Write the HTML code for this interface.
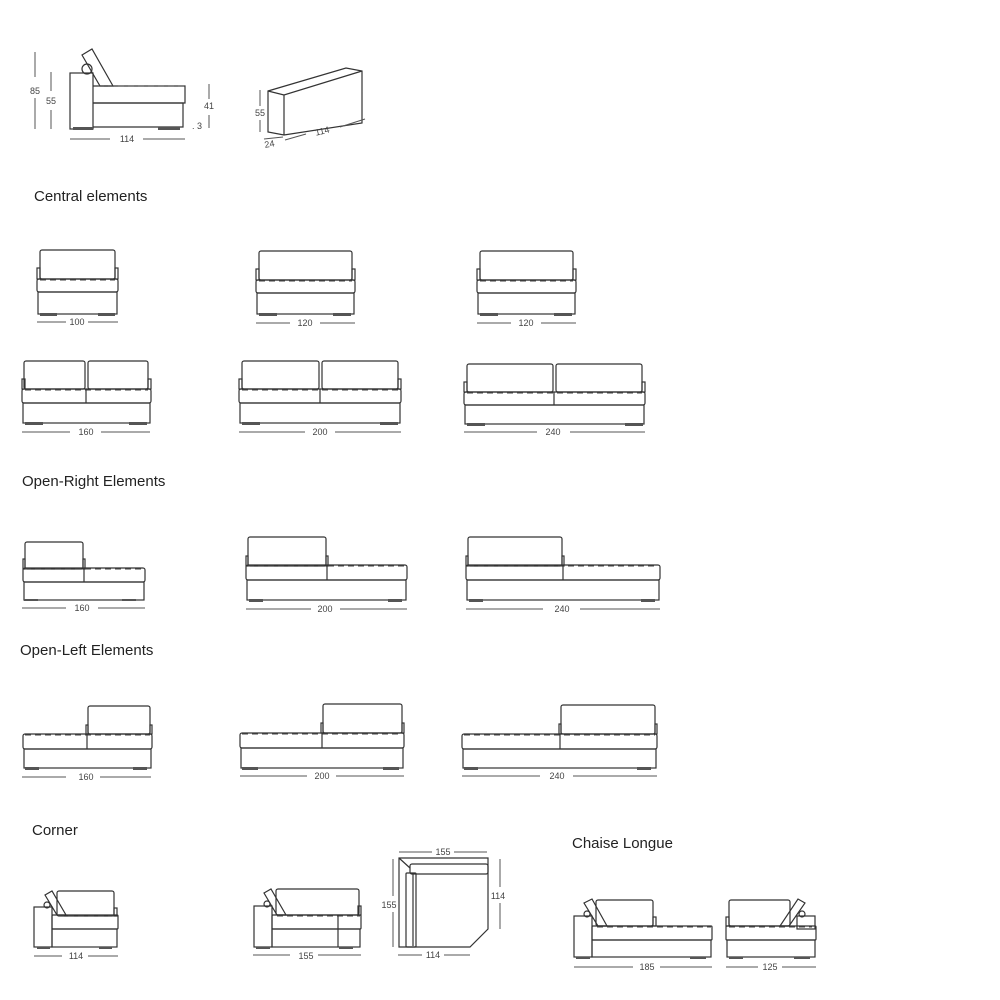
<!DOCTYPE html>
<html><head><meta charset="utf-8"><style>
html,body{margin:0;padding:0;background:#fff;width:1000px;height:1000px;overflow:hidden}
svg{display:block}
.s{fill:none;stroke:#333;stroke-width:1.2}
.d{fill:none;stroke:#444;stroke-width:1.1;stroke-dasharray:6 4}
.l{stroke:#555;stroke-width:1}
.t{font-family:"Liberation Sans",sans-serif;font-size:9px;fill:#444;text-anchor:middle}
.h{font-family:"Liberation Sans",sans-serif;font-size:15px;fill:#222}
.f{fill:#555}
</style></head><body>
<svg width="1000" height="1000" viewBox="0 0 1000 1000">
<!-- top side view -->
<line class="l" x1="35" y1="52" x2="35" y2="77"/><line class="l" x1="35" y1="98" x2="35" y2="129"/>
<text class="t" x="35" y="94">85</text>
<line class="l" x1="51" y1="72" x2="51" y2="91"/><line class="l" x1="51" y1="110" x2="51" y2="129"/>
<text class="t" x="51" y="104">55</text>
<rect class="s" x="70" y="73" width="23" height="56"/>
<circle class="s" cx="87" cy="69" r="5"/>
<path class="s" d="M82,55 L92,49 L113,86 L100,86 Z"/>
<path class="s" d="M93,86 L185,86 L185,103 L93,103"/>
<line class="d" x1="98" y1="86" x2="185" y2="86"/>
<path class="s" d="M93,103 L183,103 L183,127 L93,127"/>
<rect class="f" x="73" y="127" width="20" height="3"/><rect class="f" x="158" y="127" width="22" height="3"/>
<line class="l" x1="209" y1="84" x2="209" y2="99"/><line class="l" x1="209" y1="115" x2="209" y2="128"/>
<text class="t" x="209" y="109">41</text><text class="t" x="197" y="129">. 3</text>
<line class="l" x1="70" y1="139" x2="110" y2="139"/><line class="l" x1="143" y1="139" x2="185" y2="139"/>
<text class="t" x="127" y="142">114</text>
<!-- block -->
<path class="s" d="M268,91 L346,68 L362,71 L362,123 L284,135 L268,132 Z M268,91 L284,95 L362,71 M284,95 L284,135"/>
<line class="l" x1="260" y1="90" x2="260" y2="106"/><line class="l" x1="260" y1="120" x2="260" y2="132"/>
<text class="t" x="260" y="116">55</text>
<line class="l" x1="285" y1="140" x2="306" y2="134"/><line class="l" x1="340" y1="127" x2="365" y2="119"/>
<text class="t" x="323" y="134" transform="rotate(-14 323 134)">114</text>
<line class="l" x1="264" y1="139" x2="283" y2="137"/>
<text class="t" x="270" y="147" transform="rotate(-10 270 147)">24</text>

<text class="h" x="34" y="201">Central elements</text>

<!-- central 1 -->
<g>
<rect class="s" x="40" y="250" width="75" height="29" rx="2"/>
<rect class="s" x="37" y="268" width="3" height="11"/><rect class="s" x="115" y="268" width="3" height="11"/>
<rect class="s" x="37" y="279" width="81" height="13" rx="2"/><line class="d" x1="40" y1="280" x2="115" y2="280"/>
<rect class="s" x="38" y="292" width="79" height="22"/>
<rect class="f" x="40" y="313" width="17" height="3"/><rect class="f" x="98" y="313" width="17" height="3"/>
<line class="l" x1="37" y1="322" x2="66" y2="322"/><line class="l" x1="88" y1="322" x2="118" y2="322"/><text class="t" x="77" y="325">100</text>
</g>
<!-- central 2 -->
<rect class="s" x="259" y="251" width="93" height="29" rx="2"/>
<rect class="s" x="256" y="269" width="3" height="11"/><rect class="s" x="352" y="269" width="3" height="11"/>
<rect class="s" x="256" y="280" width="99" height="13" rx="2"/><line class="d" x1="259" y1="281" x2="352" y2="281"/>
<rect class="s" x="257" y="293" width="97" height="21"/>
<rect class="f" x="259" y="313" width="18" height="3"/><rect class="f" x="333" y="313" width="18" height="3"/>
<line class="l" x1="256" y1="323" x2="290" y2="323"/><line class="l" x1="320" y1="323" x2="355" y2="323"/><text class="t" x="305" y="326">120</text>
<!-- central 3 -->
<rect class="s" x="480" y="251" width="93" height="29" rx="2"/>
<rect class="s" x="477" y="269" width="3" height="11"/><rect class="s" x="573" y="269" width="3" height="11"/>
<rect class="s" x="477" y="280" width="99" height="13" rx="2"/><line class="d" x1="480" y1="281" x2="573" y2="281"/>
<rect class="s" x="478" y="293" width="97" height="21"/>
<rect class="f" x="480" y="313" width="18" height="3"/><rect class="f" x="554" y="313" width="18" height="3"/>
<line class="l" x1="477" y1="323" x2="511" y2="323"/><line class="l" x1="541" y1="323" x2="576" y2="323"/><text class="t" x="526" y="326">120</text>
<!-- 160 -->
<rect class="s" x="24" y="361" width="61" height="28" rx="2"/><rect class="s" x="88" y="361" width="60" height="28" rx="2"/>
<rect class="s" x="22" y="379" width="3" height="10"/><rect class="s" x="148" y="379" width="3" height="10"/>
<rect class="s" x="22" y="389" width="129" height="14" rx="2"/><line class="d" x1="25" y1="390" x2="148" y2="390"/><line class="s" x1="86" y1="389" x2="86" y2="403"/>
<rect class="s" x="23" y="403" width="127" height="20"/>
<rect class="f" x="25" y="422" width="18" height="3"/><rect class="f" x="129" y="422" width="18" height="3"/>
<line class="l" x1="22" y1="432" x2="70" y2="432"/><line class="l" x1="101" y1="432" x2="150" y2="432"/><text class="t" x="86" y="435">160</text>
<!-- 200 -->
<rect class="s" x="242" y="361" width="77" height="28" rx="2"/><rect class="s" x="322" y="361" width="76" height="28" rx="2"/>
<rect class="s" x="239" y="379" width="3" height="10"/><rect class="s" x="398" y="379" width="3" height="10"/>
<rect class="s" x="239" y="389" width="162" height="14" rx="2"/><line class="d" x1="242" y1="390" x2="398" y2="390"/><line class="s" x1="320" y1="389" x2="320" y2="403"/>
<rect class="s" x="240" y="403" width="160" height="20"/>
<rect class="f" x="242" y="422" width="18" height="3"/><rect class="f" x="380" y="422" width="18" height="3"/>
<line class="l" x1="239" y1="432" x2="305" y2="432"/><line class="l" x1="335" y1="432" x2="401" y2="432"/><text class="t" x="320" y="435">200</text>
<!-- 240 -->
<rect class="s" x="467" y="364" width="86" height="28" rx="2"/><rect class="s" x="556" y="364" width="86" height="28" rx="2"/>
<rect class="s" x="464" y="382" width="3" height="10"/><rect class="s" x="642" y="382" width="3" height="10"/>
<rect class="s" x="464" y="392" width="181" height="13" rx="2"/><line class="d" x1="467" y1="393" x2="642" y2="393"/><line class="s" x1="554" y1="392" x2="554" y2="405"/>
<rect class="s" x="465" y="405" width="179" height="19"/>
<rect class="f" x="467" y="423" width="18" height="3"/><rect class="f" x="625" y="423" width="18" height="3"/>
<line class="l" x1="464" y1="432" x2="537" y2="432"/><line class="l" x1="570" y1="432" x2="645" y2="432"/><text class="t" x="553" y="435">240</text>

<text class="h" x="22" y="486">Open-Right Elements</text>
<!-- OR 160 -->
<rect class="s" x="25" y="542" width="58" height="27" rx="2"/><rect class="s" x="23" y="559" width="2" height="10"/><rect class="s" x="83" y="559" width="2" height="10"/>
<rect class="s" x="23" y="568" width="122" height="14" rx="2"/><line class="d" x1="25" y1="569" x2="143" y2="569"/><line class="s" x1="84" y1="568" x2="84" y2="582"/>
<rect class="s" x="24" y="582" width="120" height="18"/>
<rect class="f" x="24" y="599" width="14" height="2"/><rect class="f" x="122" y="599" width="14" height="2"/>
<line class="l" x1="22" y1="608" x2="66" y2="608"/><line class="l" x1="98" y1="608" x2="145" y2="608"/><text class="t" x="82" y="611">160</text>
<!-- OR 200 -->
<rect class="s" x="248" y="537" width="78" height="29" rx="2"/><rect class="s" x="246" y="556" width="2" height="10"/><rect class="s" x="326" y="556" width="2" height="10"/>
<rect class="s" x="246" y="565" width="161" height="15" rx="2"/><line class="d" x1="248" y1="566" x2="405" y2="566"/><line class="s" x1="327" y1="565" x2="327" y2="580"/>
<rect class="s" x="247" y="580" width="159" height="20"/>
<rect class="f" x="249" y="599" width="14" height="3"/><rect class="f" x="388" y="599" width="14" height="3"/>
<line class="l" x1="246" y1="609" x2="311" y2="609"/><line class="l" x1="340" y1="609" x2="407" y2="609"/><text class="t" x="325" y="612">200</text>
<!-- OR 240 -->
<rect class="s" x="468" y="537" width="94" height="29" rx="2"/><rect class="s" x="466" y="556" width="2" height="10"/><rect class="s" x="562" y="556" width="2" height="10"/>
<rect class="s" x="466" y="565" width="194" height="15" rx="2"/><line class="d" x1="468" y1="566" x2="658" y2="566"/><line class="s" x1="563" y1="565" x2="563" y2="580"/>
<rect class="s" x="467" y="580" width="192" height="20"/>
<rect class="f" x="469" y="599" width="14" height="3"/><rect class="f" x="641" y="599" width="14" height="3"/>
<line class="l" x1="466" y1="609" x2="543" y2="609"/><line class="l" x1="580" y1="609" x2="660" y2="609"/><text class="t" x="562" y="612">240</text>

<text class="h" x="20" y="655">Open-Left Elements</text>
<!-- OL 160 -->
<rect class="s" x="88" y="706" width="62" height="28" rx="2"/><rect class="s" x="86" y="725" width="2" height="9"/><rect class="s" x="150" y="725" width="2" height="9"/>
<rect class="s" x="23" y="734" width="129" height="15" rx="2"/><line class="d" x1="25" y1="735" x2="150" y2="735"/><line class="s" x1="87" y1="734" x2="87" y2="749"/>
<rect class="s" x="24" y="749" width="127" height="19"/>
<rect class="f" x="25" y="767" width="14" height="3"/><rect class="f" x="133" y="767" width="14" height="3"/>
<line class="l" x1="22" y1="777" x2="66" y2="777"/><line class="l" x1="100" y1="777" x2="151" y2="777"/><text class="t" x="86" y="780">160</text>
<!-- OL 200 -->
<rect class="s" x="323" y="704" width="79" height="29" rx="2"/><rect class="s" x="321" y="723" width="2" height="10"/><rect class="s" x="402" y="723" width="2" height="10"/>
<rect class="s" x="240" y="733" width="164" height="15" rx="2"/><line class="d" x1="242" y1="734" x2="402" y2="734"/><line class="s" x1="322" y1="733" x2="322" y2="748"/>
<rect class="s" x="241" y="748" width="162" height="20"/>
<rect class="f" x="242" y="767" width="16" height="3"/><rect class="f" x="383" y="767" width="16" height="3"/>
<line class="l" x1="240" y1="776" x2="307" y2="776"/><line class="l" x1="336" y1="776" x2="404" y2="776"/><text class="t" x="322" y="779">200</text>
<!-- OL 240 -->
<rect class="s" x="561" y="705" width="94" height="29" rx="2"/><rect class="s" x="559" y="724" width="2" height="10"/><rect class="s" x="655" y="724" width="2" height="10"/>
<rect class="s" x="462" y="734" width="195" height="15" rx="2"/><line class="d" x1="464" y1="735" x2="655" y2="735"/><line class="s" x1="560" y1="734" x2="560" y2="749"/>
<rect class="s" x="463" y="749" width="193" height="19"/>
<rect class="f" x="464" y="767" width="14" height="3"/><rect class="f" x="637" y="767" width="14" height="3"/>
<line class="l" x1="462" y1="776" x2="540" y2="776"/><line class="l" x1="573" y1="776" x2="657" y2="776"/><text class="t" x="557" y="779">240</text>

<text class="h" x="32" y="835">Corner</text>
<text class="h" x="572" y="848">Chaise Longue</text>

<!-- corner 114 -->
<rect class="s" x="34" y="907" width="18" height="40"/>
<rect class="s" x="57" y="891" width="57" height="25" rx="2"/>
<circle class="s" cx="47" cy="905" r="3"/>
<path class="s" d="M45,895 L52,891 L66,915 L57,915 Z"/>
<rect class="s" x="114" y="908" width="3" height="8"/>
<rect class="s" x="52" y="915" width="66" height="14" rx="1"/><line class="d" x1="58" y1="916" x2="117" y2="916"/>
<rect class="s" x="52" y="929" width="65" height="18"/>
<rect class="f" x="37" y="947" width="13" height="2"/><rect class="f" x="99" y="947" width="13" height="2"/>
<line class="l" x1="34" y1="956" x2="62" y2="956"/><line class="l" x1="88" y1="956" x2="118" y2="956"/><text class="t" x="76" y="959">114</text>
<!-- corner 155 front -->
<rect class="s" x="254" y="906" width="18" height="41"/>
<rect class="s" x="276" y="889" width="83" height="26" rx="2"/>
<circle class="s" cx="267" cy="904" r="3"/>
<path class="s" d="M264,893 L271,889 L286,915 L277,915 Z"/>
<rect class="s" x="358" y="906" width="3" height="9"/>
<rect class="s" x="272" y="915" width="89" height="14" rx="1"/><line class="d" x1="277" y1="916" x2="360" y2="916"/>
<rect class="s" x="272" y="929" width="88" height="18"/><line class="s" x1="338" y1="915" x2="338" y2="947"/>
<rect class="f" x="256" y="947" width="14" height="2"/><rect class="f" x="339" y="947" width="14" height="2"/>
<line class="l" x1="253" y1="955" x2="290" y2="955"/><line class="l" x1="318" y1="955" x2="361" y2="955"/><text class="t" x="306" y="959">155</text>
<!-- corner top view -->
<path class="s" d="M399,858 L488,858 L488,929 L470,947 L399,947 Z"/>
<line class="s" x1="399" y1="858" x2="410" y2="868"/>
<rect class="s" x="410" y="864" width="78" height="10" rx="2"/>
<rect class="s" x="406" y="873" width="10" height="74" rx="1"/>
<line class="s" x1="413" y1="874" x2="413" y2="946"/>
<line class="l" x1="399" y1="852" x2="432" y2="852"/><line class="l" x1="454" y1="852" x2="487" y2="852"/><text class="t" x="443" y="855">155</text>
<line class="l" x1="393" y1="859" x2="393" y2="896"/><line class="l" x1="393" y1="912" x2="393" y2="947"/><text class="t" x="389" y="908">155</text>
<line class="l" x1="500" y1="859" x2="500" y2="887"/><line class="l" x1="500" y1="903" x2="500" y2="929"/><text class="t" x="498" y="899">114</text>
<line class="l" x1="398" y1="955" x2="422" y2="955"/><line class="l" x1="444" y1="955" x2="470" y2="955"/><text class="t" x="433" y="958">114</text>
<!-- chaise 185 -->
<rect class="s" x="574" y="916" width="18" height="41"/>
<rect class="s" x="596" y="900" width="57" height="26" rx="2"/>
<circle class="s" cx="587" cy="914" r="3"/>
<path class="s" d="M584,903 L592,899 L607,926 L598,926 Z"/>
<rect class="s" x="653" y="917" width="3" height="9"/>
<rect class="s" x="592" y="926" width="120" height="14" rx="1"/><line class="d" x1="597" y1="927" x2="711" y2="927"/>
<rect class="s" x="592" y="940" width="119" height="17"/>
<rect class="f" x="576" y="957" width="14" height="2"/><rect class="f" x="690" y="957" width="16" height="2"/>
<line class="l" x1="574" y1="967" x2="633" y2="967"/><line class="l" x1="660" y1="967" x2="712" y2="967"/><text class="t" x="647" y="970">185</text>
<!-- chaise 125 -->
<rect class="s" x="797" y="916" width="18" height="13"/>
<rect class="s" x="729" y="900" width="61" height="26" rx="2"/>
<circle class="s" cx="802" cy="914" r="3"/>
<path class="s" d="M805,903 L798,899 L780,926 L789,926 Z"/>
<rect class="s" x="726" y="917" width="3" height="9"/>
<rect class="s" x="726" y="926" width="90" height="14" rx="1"/><line class="d" x1="729" y1="927" x2="812" y2="927"/>
<rect class="s" x="727" y="940" width="88" height="17"/>
<rect class="f" x="729" y="957" width="14" height="2"/><rect class="f" x="794" y="957" width="16" height="2"/>
<line class="l" x1="726" y1="967" x2="758" y2="967"/><line class="l" x1="782" y1="967" x2="816" y2="967"/><text class="t" x="770" y="970">125</text>
</svg>
</body></html>
